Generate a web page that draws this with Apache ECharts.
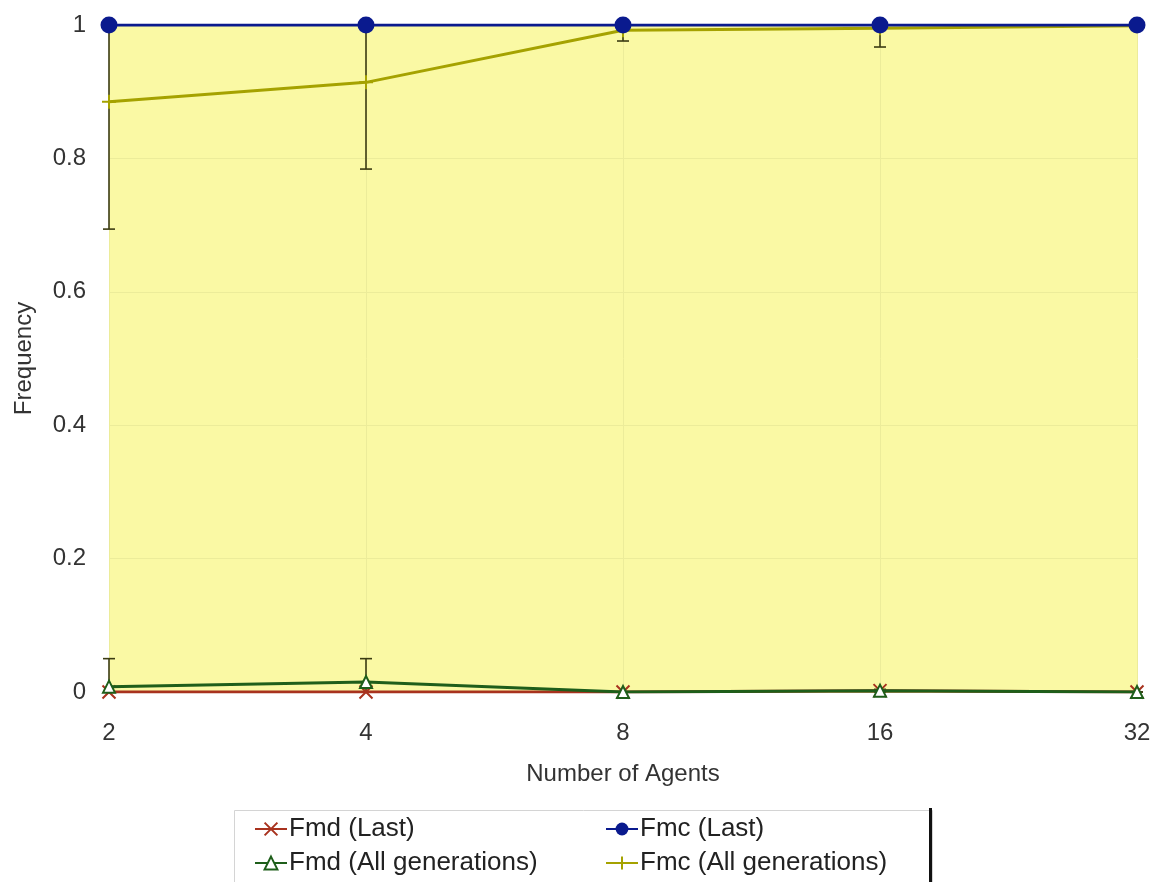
<!DOCTYPE html>
<html>
<head>
<meta charset="utf-8">
<script src="https://cdn.jsdelivr.net/npm/echarts@6/dist/echarts.min.js"></script>
<style>
html,body{margin:0;padding:0;background:#fff;}
#chart{width:1160px;height:882px;}
</style>
</head>
<body>
<div id="chart"></div>
<script>
var categories = ['2', '4', '8', '16', '32'];
var fmdLast = [0, 0, 0, 0.002, 0];
var fmcLast = [1, 1, 1, 1, 1];
var fmdAll = [0.008, 0.015, 0, 0.002, 0];
var fmcAll = [0.885, 0.914, 0.992, 0.995, 0.999];
var fmdAllLow = [0, 0, 0, 0, 0];
var fmdAllHigh = [0.05, 0.05, 0, 0.004, 0];
var fmcAllLow = [0.694, 0.784, 0.976, 0.967, 0.998];
var fmcAllHigh = [1, 1, 1, 1, 1];
var yTicks = [0, 0.2, 0.4, 0.6, 0.8, 1];

var FONT = '"Liberation Sans", Arial, sans-serif';

function errData(low, high) {
  return categories.map(function (c, i) { return [i, low[i], high[i]]; });
}

function errRender(params, api) {
  var x = api.value(0);
  var lo = api.coord([x, api.value(1)]);
  var hi = api.coord([x, api.value(2)]);
  var hw = 6;
  var st = { stroke: '#3b3b12', lineWidth: 1.6 };
  return {
    type: 'group',
    children: [
      { type: 'line', shape: { x1: lo[0], y1: lo[1], x2: hi[0], y2: hi[1] }, style: st },
      { type: 'line', shape: { x1: lo[0] - hw, y1: lo[1], x2: lo[0] + hw, y2: lo[1] }, style: st },
      { type: 'line', shape: { x1: hi[0] - hw, y1: hi[1], x2: hi[0] + hw, y2: hi[1] }, style: st }
    ]
  };
}

var xSym = 'path://M0,0L10,10M10,0L0,10';
var plusSym = 'path://M5,0L5,10M0,5L10,5';

var chart = echarts.init(document.getElementById('chart'), null, { renderer: 'canvas' });
chart.setOption({
  animation: false,
  backgroundColor: '#ffffff',
  textStyle: { fontFamily: FONT },
  grid: {
    left: 109, right: 23, top: 25, bottom: 190,
    show: true, backgroundColor: '#faf9a4', borderWidth: 0
  },
  legend: [
    {
      left: 254, top: 816, orient: 'vertical', itemGap: 8,
      itemWidth: 32, itemHeight: 16, padding: 0,
      textStyle: { fontSize: 26, color: '#222', fontFamily: FONT, lineHeight: 24, padding: [0, 0, 0, -3] },
      data: ['Fmd (Last)', 'Fmd (All generations)']
    },
    {
      left: 605, top: 816, orient: 'vertical', itemGap: 8,
      itemWidth: 32, itemHeight: 16, padding: 0,
      textStyle: { fontSize: 26, color: '#222', fontFamily: FONT, lineHeight: 24, padding: [0, 0, 0, -3] },
      data: ['Fmc (Last)', 'Fmc (All generations)']
    }
  ],
  graphic: [
    { type: 'rect', left: 232, top: 808, shape: { width: 698, height: 90 },
      style: { fill: 'none', stroke: '#d4d4d4', lineWidth: 1 }, z: -1 },
    { type: 'rect', left: 929, top: 808, shape: { width: 3, height: 74 },
      style: { fill: '#111' } }
  ],
  xAxis: {
    type: 'category', data: categories, boundaryGap: false,
    name: 'Number of Agents', nameLocation: 'middle', nameGap: 70,
    nameTextStyle: { fontSize: 24, color: '#333', fontFamily: FONT },
    axisLine: { show: false }, axisTick: { show: false },
    axisLabel: { fontSize: 24, color: '#333', margin: 29, fontFamily: FONT },
    splitLine: { show: true, lineStyle: { color: '#ecec9a', width: 1 } }
  },
  yAxis: {
    type: 'value', min: 0, max: 1, interval: 0.2,
    name: 'Frequency', nameLocation: 'middle', nameGap: 73, nameRotate: 90,
    nameTextStyle: { fontSize: 24, color: '#333', fontFamily: FONT },
    axisLine: { show: false }, axisTick: { show: false },
    axisLabel: { fontSize: 24, color: '#333', margin: 23, fontFamily: FONT,
      formatter: function (v) { return yTicks.indexOf(+v.toFixed(1)) >= 0 ? String(+v.toFixed(1)) : ''; } },
    splitLine: { show: true, lineStyle: { color: '#ecec9a', width: 1 } }
  },
  series: [
    {
      name: 'Fmd (Last)', type: 'line', data: fmdLast, z: 3,
      symbol: xSym, symbolSize: 13, showAllSymbol: true,
      lineStyle: { color: '#a8321e', width: 3 },
      itemStyle: { color: '#a8321e', borderColor: '#a8321e', borderWidth: 2 }
    },
    {
      name: 'Fmc (All generations)', type: 'line', data: fmcAll, z: 3,
      symbol: plusSym, symbolSize: 14,
      lineStyle: { color: '#a5a200', width: 3 },
      itemStyle: { color: '#a5a200', borderColor: '#a5a200', borderWidth: 2 }
    },
    {
      name: 'Fmd (All generations)', type: 'line', data: fmdAll, z: 4,
      symbol: 'emptyTriangle', symbolSize: 12,
      lineStyle: { color: '#1e5e1a', width: 3 },
      itemStyle: { color: '#1e5e1a', borderColor: '#1e5e1a', borderWidth: 2 }
    },
    {
      name: 'Fmc (Last)', type: 'line', data: fmcLast, z: 5,
      symbol: 'circle', symbolSize: 17,
      lineStyle: { color: '#0a1a8e', width: 3 },
      itemStyle: { color: '#0a1a8e' }
    },
    {
      name: 'errFmc', type: 'custom', data: errData(fmcAllLow, fmcAllHigh),
      renderItem: errRender, z: 2, silent: true
    },
    {
      name: 'errFmd', type: 'custom', data: errData(fmdAllLow, fmdAllHigh),
      renderItem: errRender, z: 2, silent: true
    }
  ]
});
</script>
</body>
</html>
